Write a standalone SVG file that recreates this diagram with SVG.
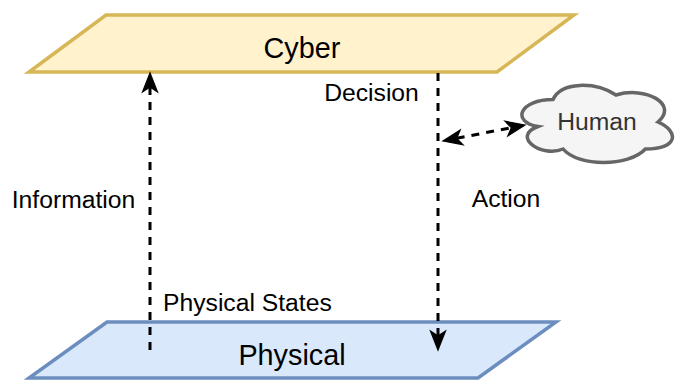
<svg xmlns="http://www.w3.org/2000/svg" width="675" height="380" viewBox="0 0 675 380">
<style>
text{font-family:"Liberation Sans",Arial,sans-serif;font-size:24.7px;fill:#000}
.big{font-size:28.8px}
.conn{fill:none;stroke:#000;stroke-width:3;stroke-dasharray:8 7}
</style>
<defs>
<marker id="arr" viewBox="-22 -10 24 20" refX="-14" refY="0" markerWidth="24" markerHeight="20" markerUnits="userSpaceOnUse" orient="auto-start-reverse">
<path d="M0,0 L-19,-7.5 L-14,0 L-19,7.5 Z" fill="#000" stroke="#000" stroke-width="1.2" stroke-linejoin="miter"/>
</marker>
</defs>
<rect width="675" height="380" fill="#fff"/>
<g id="cyber">
<polygon points="106,15 574,15 497,72 29,72" fill="#fff2cc" stroke="#d6b656" stroke-width="3.5"/>
<text class="big" x="302" y="58" text-anchor="middle">Cyber</text>
</g>
<g id="physical">
<polygon points="107,322 556,322 478,378 29,378" fill="#dae8fc" stroke="#6c8ebf" stroke-width="3.5"/>
<text class="big" x="292" y="365" text-anchor="middle">Physical</text>
</g>
<g id="human">
<path d="M553,99.5 C519.4,99.5 511,122 537.9,126.5 C511,136.4 541.2,158 563.1,149 C578.2,167 628.6,167 645.4,149 C679,149 679,131 658,122 C679,104 645.4,86 616,95 C595,81.5 561.4,81.5 553,99.5 Z" fill="#f5f5f5" stroke="#666666" stroke-width="3.5"/>
<text x="597" y="130" text-anchor="middle" style="fill:#333333">Human</text>
</g>
<g id="connectors">
<line class="conn" x1="150" y1="350" x2="150" y2="87" marker-end="url(#arr)"/>
<line class="conn" x1="438" y1="73" x2="438" y2="336" marker-end="url(#arr)"/>
<line class="conn" x1="456.7" y1="138.3" x2="511.3" y2="127.7" marker-start="url(#arr)" marker-end="url(#arr)"/>
</g>
<g id="labels">
<text x="73.5" y="208" text-anchor="middle">Information</text>
<text x="371.5" y="101" text-anchor="middle">Decision</text>
<text x="506" y="207" text-anchor="middle">Action</text>
<text x="163" y="311">Physical States</text>
</g>
</svg>
